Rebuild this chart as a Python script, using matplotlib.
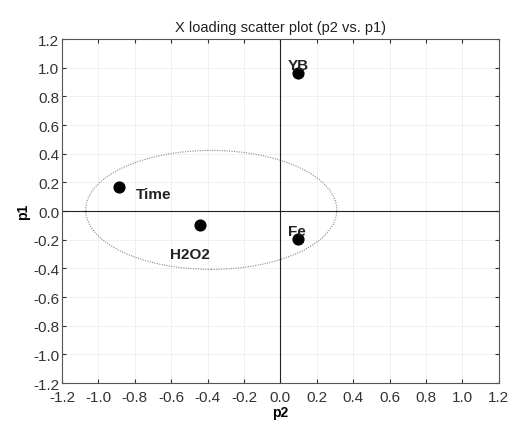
import matplotlib
matplotlib.use("Agg")
import matplotlib.pyplot as plt
import numpy as np
from matplotlib.patches import Ellipse

plt.rcParams['font.family'] = ['Liberation Sans', 'DejaVu Sans']

labels = ["YB", "Time", "H2O2", "Fe"]
p2 = [0.095, -0.885, -0.44, 0.095]
p1 = [0.965, 0.17, -0.095, -0.197]
label_offsets = [(-7, 3), (12, -8), (-22, -24), (-7, 3)]
ticks = [-1.2, -1.0, -0.8, -0.6, -0.4, -0.2, 0.0, 0.2, 0.4, 0.6, 0.8, 1.0, 1.2]
ell_center = (-0.38, 0.008)
ell_w, ell_h = 1.38, 0.83

fig = plt.figure(figsize=(5.1, 4.31), dpi=100)
ax = fig.add_axes([0.1216, 0.109, 0.8564, 0.798])
ax.set_xlim(-1.2, 1.2)
ax.set_ylim(-1.2, 1.2)
ax.set_xticks(ticks)
ax.set_yticks(ticks)
ax.set_xticklabels([f"{t:.1f}" for t in ticks])
ax.set_yticklabels([f"{t:.1f}" for t in ticks])
ax.tick_params(direction='in', top=True, right=True, labelsize=11, length=3, pad=2, colors='#333333')
ax.tick_params(axis='x', pad=5)
ax.grid(True, color='#eeeeee', linewidth=0.6)
ax.set_axisbelow(True)
for s in ax.spines.values():
    s.set_color('#555555')
    s.set_linewidth(0.8)
ax.axhline(0, color='#222222', lw=0.8)
ax.axvline(0, color='#222222', lw=0.8)
ax.add_patch(Ellipse(ell_center, ell_w, ell_h, fill=False, ls=(0, (1, 1.2)), ec='#888888', lw=0.8))
ax.scatter(p2, p1, s=60, color='black', zorder=3)
for l, x, y, off in zip(labels, p2, p1, label_offsets):
    ax.annotate(l, (x, y), xytext=off, textcoords='offset points', fontsize=11, fontweight='bold', color='#222222')
ax.set_xlabel("p2", fontsize=10, fontweight='bold', labelpad=1)
ax.set_ylabel("p1", fontsize=10, fontweight='bold', labelpad=2)
ax.set_title("X loading scatter plot (p2 vs. p1)", fontsize=10.5, pad=6, color='#222222')
fig.savefig("out.png", dpi=100)
